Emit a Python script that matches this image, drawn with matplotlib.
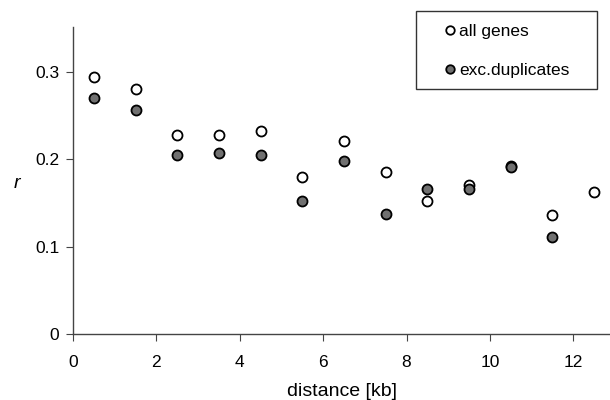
import numpy as np
import matplotlib.pyplot as plt
from matplotlib.patches import Rectangle

plt.rcParams['font.family'] = ['Liberation Sans', 'DejaVu Sans']

# distance bins [kb] and correlation r
dist_all = [0.5, 1.5, 2.5, 3.5, 4.5, 5.5, 6.5, 7.5, 8.5, 9.5, 10.5, 11.5, 12.5]
r_all = [0.294, 0.280, 0.228, 0.228, 0.232, 0.180, 0.221, 0.186, 0.152, 0.171, 0.192, 0.137, 0.163]

dist_exc = [0.5, 1.5, 2.5, 3.5, 4.5, 5.5, 6.5, 7.5, 8.5, 9.5, 10.5, 11.5]
r_exc = [0.270, 0.257, 0.205, 0.207, 0.205, 0.153, 0.198, 0.138, 0.166, 0.166, 0.191, 0.111]

xticks = [0, 2, 4, 6, 8, 10, 12]
yticks = [0, 0.1, 0.2, 0.3]
ytick_labels = ['0', '0.1', '0.2', '0.3']

fig = plt.figure(figsize=(6.1, 4.0), dpi=100)
ax = fig.add_axes([0.1197, 0.164, 0.8803, 0.7675])

ax.plot(dist_all, r_all, linestyle='none', marker='o', markersize=7.2,
        markerfacecolor='white', markeredgecolor='black', markeredgewidth=1.3,
        label='all genes')
ax.plot(dist_exc, r_exc, linestyle='none', marker='o', markersize=7.2,
        markerfacecolor='#707070', markeredgecolor='black', markeredgewidth=1.3,
        label='exc.duplicates')

ax.set_xlim(0, 12.88)
ax.set_ylim(0, 0.351)
ax.set_xticks(xticks)
ax.set_yticks(yticks)
ax.set_yticklabels(ytick_labels)

for side in ['top', 'right']:
    ax.spines[side].set_visible(False)
for side in ['left', 'bottom']:
    ax.spines[side].set_color('#444444')
    ax.spines[side].set_linewidth(1.0)

ax.tick_params(direction='out', length=5, color='#444444', labelsize=12.5, pad=5)
ax.tick_params(axis='x', pad=10)

ax.set_xlabel('distance [kb]', fontsize=14, labelpad=9)
ax.set_ylabel('r', fontsize=14, style='italic', rotation=0, va='center')
ax.yaxis.set_label_coords(-0.105, 0.49)

# legend without frame, box drawn separately
leg = ax.legend(loc='center left', bbox_to_anchor=(0.73, 0.8725),
                bbox_transform=fig.transFigure, frameon=False, fontsize=12.5,
                handlelength=0.5, handletextpad=0.3, labelspacing=1.35,
                borderpad=0, borderaxespad=0, markerscale=0.85)
fig.patches.append(Rectangle((416 / 610, 311 / 400), 181 / 610, 78 / 400,
                             transform=fig.transFigure, fill=False,
                             edgecolor='#333333', linewidth=1.0))

fig.savefig('out.png', dpi=100)
